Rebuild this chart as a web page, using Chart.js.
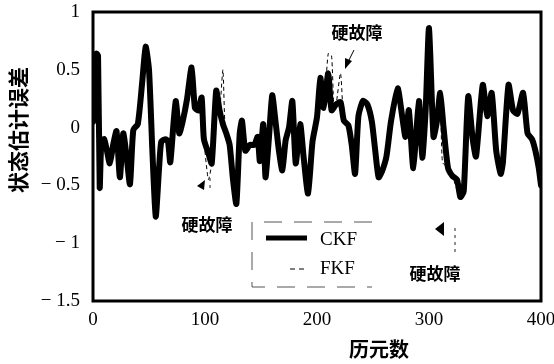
<!DOCTYPE html>
<html>
<head>
<meta charset="utf-8">
<script src="https://cdn.jsdelivr.net/npm/chart.js@4.4.1/dist/chart.umd.min.js"></script>
<style>
	body { margin: 0; background: #fff; }
	canvas { display: block; }
</style>
</head>
<body>
<canvas id="errChart" width="554" height="364"></canvas>
<script>
// CKF estimate error
const ckfX = [0, 1, 2, 3, 4.5, 6, 7.5, 10, 12, 15, 18, 21, 24, 27, 30, 33, 36, 40, 44, 47, 50, 53, 56, 59, 61, 65, 67, 69, 72, 74, 77, 80, 84, 88, 91, 94, 97, 99, 103, 106, 110, 113, 116, 119, 122, 125, 128, 131, 133, 136, 140, 144, 147, 149, 152, 154, 157, 160, 163, 166, 169, 172, 175, 178, 181, 185, 188, 192, 196, 200, 203, 206, 210, 213, 217, 221, 224, 228, 231, 234, 237, 241, 245, 249, 252, 255, 258, 262, 266, 272, 276, 279, 282, 286, 291, 294, 297, 300, 304, 307, 310, 313, 317, 321, 325, 328, 331, 335, 339, 342, 348, 352, 356, 360, 364, 366, 371, 375, 379, 384, 388, 392, 395, 398, 400];
const ckfY = [0.05, 0.6, 0.3, 0.64, 0.62, -0.52, -0.12, -0.1, -0.18, -0.31, -0.15, -0.03, -0.43, -0.05, -0.25, -0.49, -0.02, 0.03, 0.4, 0.7, 0.5, -0.2, -0.77, -0.35, -0.12, -0.1, -0.12, -0.3, 0.05, 0.23, -0.05, 0.05, 0.25, 0.52, 0.17, 0.15, 0.26, -0.1, -0.22, -0.31, 0.32, 0.15, 0.03, -0.05, -0.15, -0.45, -0.66, -0.05, 0.06, -0.2, -0.15, -0.15, -0.08, -0.29, 0.03, -0.43, -0.1, 0.28, 0.05, -0.2, -0.37, -0.11, 0.0, 0.23, -0.31, 0.03, -0.25, -0.57, -0.12, 0.09, 0.43, 0.17, 0.47, 0.15, 0.2, 0.22, 0.06, 0.02, -0.15, -0.4, 0.1, 0.23, 0.2, 0.05, -0.2, -0.43, -0.38, -0.25, 0.05, 0.34, 0.1, -0.08, 0.15, -0.35, 0.23, -0.26, 0.15, 0.86, -0.08, 0.05, 0.3, 0.0, -0.35, -0.42, -0.45, -0.6, -0.55, 0.27, -0.1, -0.25, 0.37, 0.1, 0.3, -0.2, -0.4, -0.3, 0.37, 0.15, 0.12, 0.3, -0.05, -0.1, -0.2, -0.35, -0.5];

// FKF estimate error, follows CKF except around the hard faults
const fkfX = [0, 1, 2, 3, 4.5, 6, 7.5, 10, 12, 15, 18, 21, 24, 27, 30, 33, 36, 40, 44, 47, 50, 53, 56, 59, 61, 65, 67, 69, 72, 74, 77, 80, 84, 88, 91, 94, 97, 99, 103, 106, 110, 113, 116, 118, 122, 125, 128, 131, 133, 136, 140, 144, 147, 149, 152, 154, 157, 160, 163, 166, 169, 172, 175, 178, 181, 185, 188, 192, 196, 200, 203, 206, 210, 213, 215, 217, 221, 224, 228, 231, 234, 237, 241, 245, 249, 252, 255, 258, 262, 266, 272, 276, 279, 282, 286, 291, 294, 297, 300, 304, 307, 310, 312, 317, 321, 326, 328, 331, 335, 339, 342, 348, 352, 356, 360, 364, 366, 371, 375, 379, 384, 388, 392, 395, 398, 400];
const fkfY = [0.05, 0.6, 0.3, 0.64, 0.62, -0.52, -0.12, -0.1, -0.18, -0.31, -0.15, -0.03, -0.43, -0.05, -0.25, -0.49, -0.02, 0.03, 0.4, 0.7, 0.5, -0.2, -0.77, -0.35, -0.12, -0.1, -0.12, -0.3, 0.05, 0.23, -0.05, 0.05, 0.25, 0.52, 0.17, 0.15, 0.26, -0.1, -0.45, -0.31, 0.32, 0.15, 0.5, 0.0, -0.15, -0.45, -0.66, -0.05, 0.06, -0.2, -0.15, -0.15, -0.08, -0.29, 0.03, -0.43, -0.1, 0.28, 0.05, -0.2, -0.37, -0.11, 0.0, 0.23, -0.31, 0.03, -0.25, -0.57, -0.12, 0.09, 0.43, 0.17, 0.64, 0.62, 0.2, 0.2, 0.47, 0.06, 0.02, -0.15, -0.4, 0.1, 0.23, 0.2, 0.05, -0.2, -0.43, -0.38, -0.25, 0.05, 0.34, 0.1, -0.08, 0.15, -0.35, 0.23, -0.26, 0.15, 0.86, -0.08, 0.05, 0.3, -0.3, -0.35, -0.42, -0.57, -0.6, -0.55, 0.27, -0.1, -0.25, 0.37, 0.1, 0.3, -0.2, -0.4, -0.3, 0.37, 0.15, 0.12, 0.3, -0.05, -0.1, -0.2, -0.35, -0.5];

const xTicks = [0, 100, 200, 300, 400];
const yTicks = [1, 0.5, 0, -0.5, -1, -1.5];
const yTickLabels = ['1', '0.5', '0', '\u2212 0.5', '\u2212 1', '\u2212 1.5'];
const xTitle = '历元数';
const yTitle = '状态估计误差';
const faultLabel = '硬故障';

const serif = "'Liberation Serif', 'Noto Sans CJK SC', serif";
const cjk = "'Noto Sans CJK SC', 'Liberation Serif', sans-serif";

const toPoints = (xs, ys) => xs.map((x, i) => ({ x: x, y: ys[i] }));

// frame, axis titles, fault notes and the legend box
const extras = {
	id: 'extras',
	afterDatasetsDraw(chart) {
		const ctx = chart.ctx;
		const a = chart.chartArea;
		ctx.save();

		// frame
		ctx.strokeStyle = '#000';
		ctx.lineWidth = 3;
		ctx.setLineDash([]);
		ctx.strokeRect(a.left, a.top, a.right - a.left, a.bottom - a.top);

		// axis titles
		ctx.fillStyle = '#000';
		ctx.font = 'bold 20px ' + cjk;
		ctx.textAlign = 'center';
		ctx.textBaseline = 'middle';
		ctx.fillText(xTitle, 379, 349);
		ctx.save();
		ctx.translate(18, 130);
		ctx.rotate(-Math.PI / 2);
		ctx.font = 'bold 21px ' + cjk;
		ctx.fillText(yTitle, 0, 0);
		ctx.restore();

		// fault notes
		ctx.font = 'bold 17px ' + cjk;
		ctx.fillText(faultLabel, 207, 225);
		ctx.fillText(faultLabel, 357, 33);
		ctx.fillText(faultLabel, 435, 274);

		const tri = (pts) => {
			ctx.beginPath();
			ctx.moveTo(pts[0], pts[1]);
			ctx.lineTo(pts[2], pts[3]);
			ctx.lineTo(pts[4], pts[5]);
			ctx.closePath();
			ctx.fill();
		};
		ctx.lineWidth = 1;
		// left arrow
		tri([197, 186, 205, 180, 204, 190]);
		// top arrow
		ctx.beginPath();
		ctx.moveTo(354, 50);
		ctx.lineTo(348, 62);
		ctx.stroke();
		tri([345, 69, 345, 58, 352, 61]);
		// bottom right arrow
		tri([435, 229, 444, 222, 444, 236]);

		ctx.setLineDash([3, 4]);
		ctx.strokeStyle = '#222';
		ctx.beginPath();
		ctx.moveTo(210, 178);
		ctx.lineTo(210, 192);
		ctx.moveTo(455, 228);
		ctx.lineTo(455, 254);
		ctx.stroke();

		// legend
		ctx.strokeStyle = '#555';
		ctx.setLineDash([18, 12]);
		ctx.beginPath();
		ctx.moveTo(372, 222);
		ctx.lineTo(252, 222);
		ctx.lineTo(252, 287);
		ctx.lineTo(372, 287);
		ctx.stroke();

		ctx.setLineDash([]);
		ctx.strokeStyle = '#000';
		ctx.lineWidth = 5;
		ctx.beginPath();
		ctx.moveTo(266, 238);
		ctx.lineTo(307, 238);
		ctx.stroke();
		ctx.lineWidth = 1;
		ctx.setLineDash([5, 4]);
		ctx.beginPath();
		ctx.moveTo(290, 269);
		ctx.lineTo(306, 269);
		ctx.stroke();

		ctx.font = '19px ' + serif;
		ctx.textAlign = 'left';
		ctx.fillText(chart.data.datasets[0].label, 320, 240);
		ctx.fillText(chart.data.datasets[1].label, 320, 269);
		ctx.restore();
	},
};

const ctx = document.getElementById('errChart').getContext('2d');
const errChart = new Chart(ctx, {
	type: 'line',
	data: {
		datasets: [{
			label: 'CKF',
			data: toPoints(ckfX, ckfY),
			borderColor: '#000',
			borderWidth: 6,
			borderJoinStyle: 'round',
			borderCapStyle: 'round',
			pointRadius: 0,
			tension: 0.2,
			order: 2,
		}, {
			label: 'FKF',
			data: toPoints(fkfX, fkfY),
			borderColor: '#000',
			borderWidth: 1,
			borderDash: [4, 3],
			pointRadius: 0,
			tension: 0.2,
			order: 1,
		}],
	},
	options: {
		responsive: false,
		animation: false,
		layout: {
			padding: { top: 12, right: 13, left: 0, bottom: 0 },
		},
		plugins: {
			legend: { display: false },
			tooltip: { enabled: false },
		},
		scales: {
			x: {
				type: 'linear',
				min: 0,
				max: 400,
				afterBuildTicks: (scale) => {
					scale.ticks = xTicks.map((v) => ({ value: v }));
				},
				afterFit: (scale) => {
					scale.height = 63;
					scale.paddingLeft = 0;
					scale.paddingRight = 0;
				},
				grid: { display: false, drawTicks: false },
				border: { display: false },
				ticks: {
					color: '#000',
					padding: 8,
					maxRotation: 0,
					font: { family: serif, size: 19 },
				},
			},
			y: {
				min: -1.5,
				max: 1,
				afterBuildTicks: (scale) => {
					scale.ticks = yTicks.map((v) => ({ value: v }));
				},
				afterFit: (scale) => {
					scale.width = 93;
					scale.paddingTop = 0;
					scale.paddingBottom = 0;
				},
				grid: { display: false, drawTicks: false },
				border: { display: false },
				ticks: {
					color: '#000',
					padding: 13,
					font: { family: serif, size: 19 },
					callback: (value) => {
						const i = yTicks.indexOf(value);
						return i >= 0 ? yTickLabels[i] : '';
					},
				},
			},
		},
	},
	plugins: [extras],
});
</script>
</body>
</html>
